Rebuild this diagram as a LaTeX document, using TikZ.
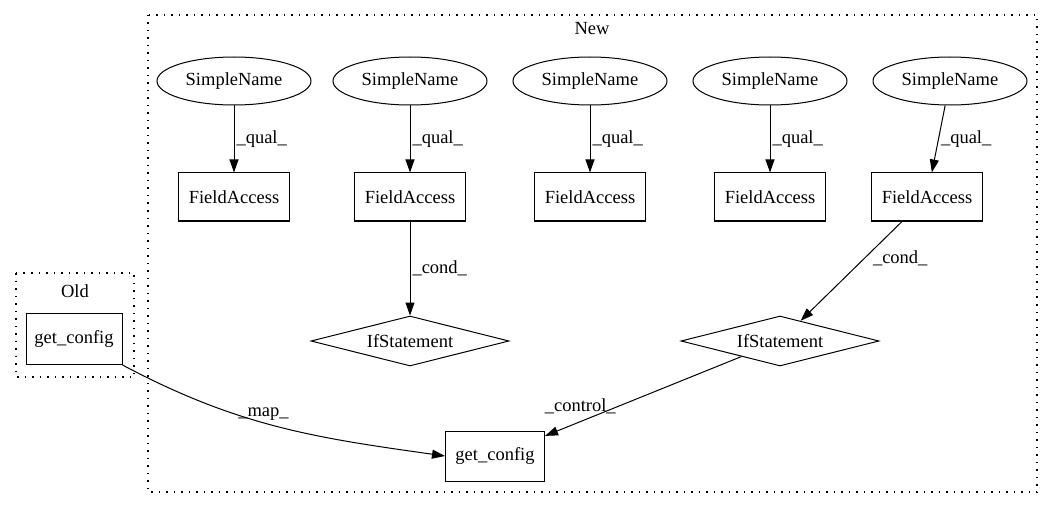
\documentclass[tikz,border=0pt]{standalone}
\usepackage{fontspec}
\setmainfont{Liberation Serif}
\usetikzlibrary{
    arrows.meta,
    shapes.geometric,
    positioning
}

\begin{document}
\begin{tikzpicture}[
        x=1pt, y=-1pt,
        line width=1pt,
        >={Triangle[length=13pt,width=9pt]},
        every node/.style={font=\fontsize{18.5}{21}\selectfont},
        name node/.style={draw, ellipse, inner sep=0pt, minimum width=154pt, minimum height=48pt},
        access node/.style={draw, rectangle, inner sep=0pt, minimum width=111pt, minimum height=48pt},
        if node/.style={draw, diamond, aspect=3.8, inner sep=0pt, minimum width=198pt, minimum height=50pt},
        call node/.style={draw, rectangle, inner sep=0pt, minimum width=99pt, minimum height=50pt},
        cluster/.style={draw, line width=1.3pt, dash pattern=on 1.5pt off 6pt},
        edge label/.style={inner sep=2pt}
    ]
    \useasboundingbox (0,0) rectangle (1053,508);

    % clusters
    \draw[cluster] (148,15) rectangle (1037,492);
    \node (newlabel) at (592,29) {New};
    \draw[cluster] (16,273) rectangle (134,377);
    \node (oldlabel) at (75,291) {Old};

    % names and their field accesses
    \foreach \i/\xs/\xf in {1/234/234, 2/410/410, 3/590/590, 4/770/770, 5/950/927} {
        \node[name node] (sn\i) at (\xs,81) {SimpleName};
        \node[access node] (fa\i) at (\xf,197) {FieldAccess};
        \draw[->] (sn\i) -- (fa\i) node[midway, right, edge label] {\_qual\_};
    }

    \node[if node] (if1) at (410,341) {IfStatement};
    \node[if node] (if2) at (780,341) {IfStatement};
    \node[call node] (gc) at (495,456) {get\_config};
    \node[call node, minimum width=96pt, minimum height=51pt] (gcold) at (74,339) {get\_config};

    \draw[->] (fa2) -- (if1) node[midway, right, edge label] {\_cond\_};
    \draw[->] (fa5) -- (if2) node[pos=0.37, right=6pt, edge label] {\_cond\_};
    \draw[->] (if2) -- (gc) node[pos=0.8, above=4pt, xshift=-4pt, edge label] {\_control\_};
    \draw[->] (gcold.south east) to[out=-28, in=172] node[pos=0.45, above, edge label] {\_map\_} (gc.west);
\end{tikzpicture}
\end{document}
